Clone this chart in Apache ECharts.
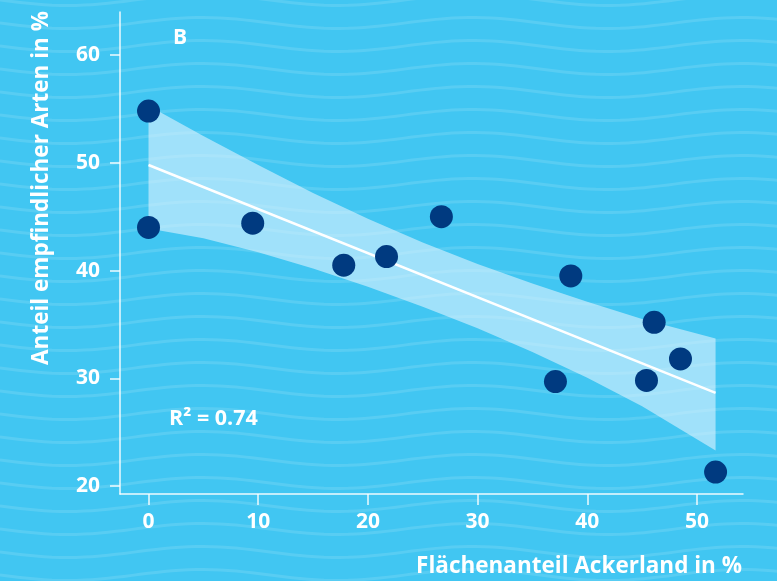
<!DOCTYPE html>
<html>
<head>
<meta charset="utf-8">
<script src="https://cdn.jsdelivr.net/npm/echarts@6/dist/echarts.min.js"></script>
<style>
html,body{margin:0;padding:0;background:#41c6f2;}
#chart{width:777px;height:581px;}
</style>
</head>
<body>
<div id="chart"></div>
<script>
// Data
var pointsX = [0, 0, 9.5, 17.8, 21.7, 26.7, 38.5, 46.1, 48.5, 37.1, 45.4, 51.7];
var pointsY = [54.8, 44.0, 44.4, 40.5, 41.3, 45.0, 39.5, 35.2, 31.8, 29.7, 29.8, 21.3];
var fitX = [0, 51.7];
var fitY = [49.8, 28.65];
var bandX = [0, 5, 10, 15, 20, 25, 30, 35, 40, 45, 51.7];
var bandUpper = [55.3, 52.5, 49.8, 47.2, 44.8, 42.6, 40.6, 38.8, 37.1, 35.5, 33.7];
var bandLower = [43.9, 43.0, 41.7, 40.2, 38.5, 36.65, 34.65, 32.45, 30.05, 27.4, 23.3];
var xTicks = [0, 10, 20, 30, 40, 50];
var yTicks = [20, 30, 40, 50, 60];
var xTitle = 'Flächenanteil Ackerland in %';
var yTitle = 'Anteil empfindlicher Arten in %';
var panelLabel = 'B';
var r2Label = 'R\u00B2 = 0.74';

var FONT = '"Open Sans", "Noto Sans", sans-serif';
var chart = echarts.init(document.getElementById('chart'), null, {renderer: 'canvas'});

// decorative wavy background
var waves = [];
for (var row = -2; row < 28; row++) {
  var pts = [];
  for (var px = -20; px <= 800; px += 8) {
    pts.push([px, row * 23 + 5.5 * Math.sin(2 * Math.PI * px / 270)]);
  }
  waves.push({
    type: 'polyline', silent: true, z: -10,
    shape: {points: pts, smooth: 0},
    style: {stroke: 'rgba(255,255,255,0.12)', lineWidth: 3, fill: null}
  });
}

var bandData = bandX.map(function (x, i) { return [x, bandLower[i], bandUpper[i]]; });
var scatterData = pointsX.map(function (x, i) { return [x, pointsY[i]]; });
var fitData = fitX.map(function (x, i) { return [x, fitY[i]]; });

var option = {
  backgroundColor: '#41c6f2',
  animation: false,
  grid: {left: 120, right: 34, top: 12, bottom: 87, containLabel: false},
  xAxis: {
    type: 'value', min: -2.6, max: 54.2,
    splitLine: {show: false},
    axisLine: {show: true, onZero: false, lineStyle: {color: 'rgba(255,255,255,0.9)', width: 1.5}},
    axisTick: {show: true, length: 11, customValues: xTicks, lineStyle: {color: 'rgba(255,255,255,0.9)', width: 1.5}},
    axisLabel: {customValues: xTicks, color: '#fff', fontFamily: FONT, fontWeight: 'bold', fontSize: 21, margin: 18}
  },
  yAxis: {
    type: 'value', min: 19.26, max: 64,
    splitLine: {show: false},
    axisLine: {show: true, onZero: false, lineStyle: {color: 'rgba(255,255,255,0.9)', width: 1.5}},
    axisTick: {show: true, length: 10, customValues: yTicks, lineStyle: {color: 'rgba(255,255,255,0.9)', width: 1.5}},
    axisLabel: {customValues: yTicks, color: '#fff', fontFamily: FONT, fontWeight: 'bold', fontSize: 21, margin: 20}
  },
  graphic: waves.concat([
    {type: 'text', z: 10, style: {text: xTitle, x: 742, y: 567, align: 'right', verticalAlign: 'middle', fill: '#fff', font: 'bold 22.5px ' + FONT}},
    {type: 'text', z: 10, rotation: Math.PI / 2, x: 42, y: 188, style: {text: yTitle, x: 0, y: 0, align: 'center', verticalAlign: 'middle', fill: '#fff', font: 'bold 22.5px ' + FONT}},
    {type: 'text', z: 10, style: {text: panelLabel, x: 180, y: 38, align: 'center', verticalAlign: 'middle', fill: '#fff', font: 'bold 21px ' + FONT}},
    {type: 'text', z: 10, style: {text: r2Label, x: 169, y: 419, align: 'left', verticalAlign: 'middle', fill: '#fff', font: 'bold 21.5px ' + FONT}}
  ]),
  series: [
    {
      type: 'custom', z: 1, silent: true,
      data: bandData,
      encode: {x: 0, y: [1, 2]},
      renderItem: function (params, api) {
        if (params.dataIndex !== 0) return null;
        var top = [], bottom = [];
        for (var i = 0; i < bandX.length; i++) {
          top.push(api.coord([bandX[i], bandUpper[i]]));
          bottom.unshift(api.coord([bandX[i], bandLower[i]]));
        }
        return {type: 'polygon', shape: {points: top.concat(bottom)}, style: {fill: 'rgba(224,244,255,0.6)'}};
      }
    },
    {
      type: 'line', z: 2, data: fitData, symbol: 'none', silent: true,
      lineStyle: {color: '#ffffff', width: 2.5}
    },
    {
      type: 'scatter', z: 3, data: scatterData, symbolSize: 23,
      itemStyle: {color: '#003a80', opacity: 1}
    }
  ]
};
chart.setOption(option);
</script>
</body>
</html>
